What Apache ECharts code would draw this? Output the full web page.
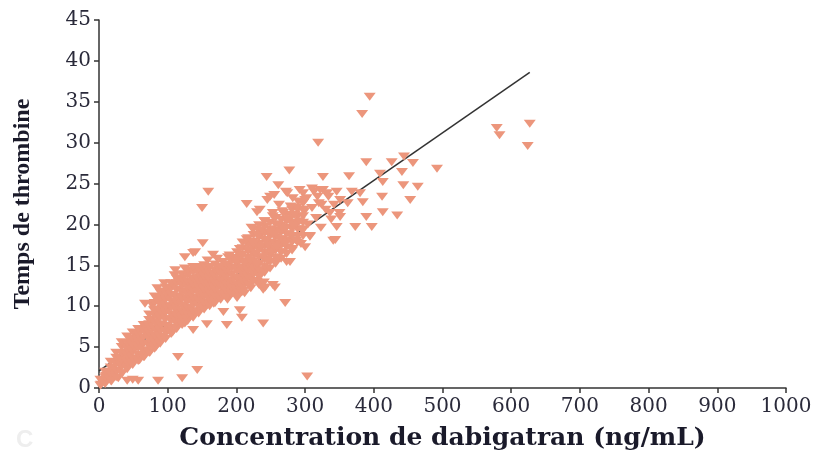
<!DOCTYPE html>
<html>
<head>
<meta charset="utf-8">
<title>Temps de thrombine vs dabigatran</title>
<script src="https://cdn.jsdelivr.net/npm/echarts@6/dist/echarts.min.js"></script>
<style>
  html, body { margin: 0; padding: 0; background: #fff; }
  #chart { width: 814px; height: 453px; }
</style>
</head>
<body>
<div id="chart"></div>
<script>
// axis ticks
const xTicks = [0, 100, 200, 300, 400, 500, 600, 700, 800, 900, 1000]
const yTicks = [0, 5, 10, 15, 20, 25, 30, 35, 40, 45]

// dense band of measurements, low concentrations  [ng/mL, s]
const bandeBasse = [
  [3,0.4],[6,1.0],[8,0.6],[10,1.5],[12,0.9],[14,2.0],[16,1.3],[18,0.8],[20,2.4],[22,1.6],
  [24,3.0],[26,2.1],[28,1.2],[30,3.5],[32,2.6],[34,1.8],[35,3.0],[36,4.2],[38,3.2],[40,2.4],
  [41,4.3],[42,5.0],[44,3.9],[46,2.9],[47,3.6],[48,5.8],[50,4.6],[52,3.4],[53,5.0],[54,6.4],
  [56,5.3],[57,6.7],[58,4.0],[59,3.4],[60,7.0],[62,6.0],[63,5.4],[64,4.6],[66,3.8],[67,6.9],
  [68,7.4],[69,4.4],[70,6.5],[72,5.3],[73,7.8],[74,4.3],[75,6.0],[76,8.3],[77,10.2],[78,7.2],
  [79,5.2],[80,9.5],[81,6.0],[82,8.0],[83,5.0],[84,9.2],[85,10.8],[86,8.6],[87,6.7],[88,7.4],
  [89,10.3],[90,11.6],[91,5.8],[92,9.7],[93,8.9],[94,6.3],[95,10.6],[96,8.4],[97,7.0],[98,11.0],
  [99,9.5],[100,12.1],[102,10.0],[103,11.3],[104,7.2],[105,8.4],[106,9.0],[107,6.8],[108,12.5],[109,10.5],
  [110,11.2],[111,9.6],[112,8.2],[113,12.0],[114,10.2],[115,7.6],[116,13.0],[117,11.0],[118,9.3],[119,8.9],
  [120,11.8],[121,12.6],[122,13.4],[123,10.1],[124,8.6],[125,7.9],[126,10.8],[127,9.5],[128,12.6],[129,11.8],
  [130,14.2],[131,13.0],[132,9.6],[133,8.7],[134,11.5],[135,10.9],[136,13.4],[137,12.0],[138,10.4],[139,9.2],
  [140,14.6],[141,13.3],[142,12.3],[143,11.0],[144,9.4],[145,14.2],[146,13.5],[147,10.0],[148,11.1],[149,12.4],
  [150,14.8],[151,13.5],[152,10.2],[153,11.7],[154,12.6],[156,13.8],[157,10.1],[158,11.4],[159,13.0],[160,14.6],
  [161,12.0],[162,10.6],[163,13.7],[164,12.9],[165,11.2],[166,14.0],[167,10.3],[168,11.8],[169,12.4],[170,13.2],
  [171,14.3],[172,10.9],[174,11.5],[175,14.5],[177,13.0],[178,12.4],[180,13.6],[181,12.1],[183,11.6],[184,14.1],
  [186,14.8],[187,10.8],[188,12.9],[190,11.2],[191,12.6],[193,13.9],[194,11.8],[196,12.2],[197,13.5],[199,14.6],
  [201,11.5],[202,13.2],[204,14.6],[205,12.0],[207,12.8],[208,14.1],[210,11.9],[212,13.0],[214,13.6],[215,14.4],
  [217,14.8],[218,12.6],[221,12.2],[222,13.6],[224,13.0],[226,14.2],[228,14.6],[230,13.0],[233,12.6],[235,13.8],
  [238,14.1],[240,12.9],[242,14.4],
  [85,12.2],[95,12.8],[110,13.8],[125,14.6],[158,15.6],[172,15.8],[180,15.4],[190,16.2],[198,15.8]
]

// more measurements filling the band, column by column  [ng/mL, s]
const remplissageBande = [
  [2,0.3],[2,1.0],
  [9,0.5],[9,1.3],[9,2.0],
  [17,0.9],[17,1.7],[17,2.5],[17,3.2],
  [25,1.3],[25,2.1],[25,2.9],[25,3.7],[25,4.3],
  [33,1.8],[33,2.6],[33,3.4],[33,4.2],[33,5.0],[33,5.6],
  [41,2.3],[41,3.1],[41,3.9],[41,4.7],[41,5.5],[41,6.3],
  [49,2.8],[49,3.6],[49,4.4],[49,5.2],[49,6.0],[49,6.8],
  [57,3.3],[57,4.1],[57,4.9],[57,5.7],[57,6.5],[57,7.2],
  [65,3.8],[65,4.6],[65,5.4],[65,6.2],[65,7.0],[65,7.7],
  [73,4.3],[73,5.1],[73,5.9],[73,6.7],[73,7.5],[73,8.3],[73,9.0],
  [81,4.8],[81,5.6],[81,6.4],[81,7.2],[81,8.0],[81,8.8],[81,9.6],[81,10.4],[81,11.2],
  [89,5.4],[89,6.2],[89,7.0],[89,7.8],[89,8.6],[89,9.4],[89,10.2],[89,11.0],[89,11.8],
  [97,6.0],[97,6.8],[97,7.6],[97,8.4],[97,9.2],[97,10.0],[97,10.8],[97,11.6],[97,12.3],
  [105,6.6],[105,7.4],[105,8.2],[105,9.0],[105,9.8],[105,10.6],[105,11.4],[105,12.2],[105,12.8],
  [113,7.2],[113,8.0],[113,8.8],[113,9.6],[113,10.4],[113,11.2],[113,12.0],[113,12.8],[113,13.4],
  [121,7.7],[121,8.5],[121,9.3],[121,10.1],[121,10.9],[121,11.7],[121,12.5],[121,13.3],[121,13.9],
  [129,8.2],[129,9.0],[129,9.8],[129,10.6],[129,11.4],[129,12.2],[129,13.0],[129,13.8],[129,14.4],
  [137,8.6],[137,9.4],[137,10.2],[137,11.0],[137,11.8],[137,12.6],[137,13.4],[137,14.2],[137,14.8],
  [145,9.1],[145,9.9],[145,10.7],[145,11.5],[145,12.3],[145,13.1],[145,13.9],[145,14.6],
  [153,9.6],[153,10.4],[153,11.2],[153,12.0],[153,12.8],[153,13.6],[153,14.4],[153,15.0],
  [161,10.0],[161,10.8],[161,11.6],[161,12.4],[161,13.2],[161,14.0],[161,14.8],
  [169,10.4],[169,11.2],[169,12.0],[169,12.8],[169,13.6],[169,14.4],[169,15.1],
  [177,10.8],[177,11.6],[177,12.4],[177,13.2],[177,14.0],[177,14.8],
  [185,11.1],[185,11.9],[185,12.7],[185,13.5],[185,14.3],[185,15.1],
  [193,11.5],[193,12.3],[193,13.1],[193,13.9],[193,14.7],[193,15.5],
  [201,11.9],[201,12.7],[201,13.5],[201,14.3],[201,15.1],[201,15.9],[201,16.6],
  [209,12.3],[209,13.1],[209,13.9],[209,14.7],[209,15.5],[209,16.3],[209,17.1],[209,17.8],
  [217,12.7],[217,13.5],[217,14.3],[217,15.1],[217,15.9],[217,16.7],[217,17.5],[217,18.3],
  [225,13.1],[225,13.9],[225,14.7],[225,15.5],[225,16.3],[225,17.1],[225,17.9],[225,18.7],[225,19.4],
  [233,13.6],[233,14.4],[233,15.2],[233,16.0],[233,16.8],[233,17.6],[233,18.4],[233,19.2],[233,19.9],
  [241,14.1],[241,14.9],[241,15.7],[241,16.5],[241,17.3],[241,18.1],[241,18.9],[241,19.7],[241,20.4],
  [249,14.6],[249,15.4],[249,16.2],[249,17.0],[249,17.8],[249,18.6],[249,19.4],[249,20.2],
  [257,15.2],[257,16.0],[257,16.8],[257,17.6],[257,18.4],[257,19.2],[257,20.0],[257,20.8],
  [265,15.8],[265,16.6],[265,17.4],[265,18.2],[265,19.0],[265,19.8],[265,20.6],
  [273,16.4],[273,17.2],[273,18.0],[273,18.8],[273,19.6],[273,20.4],[273,21.2],
  [281,17.0],[281,17.8],[281,18.6],[281,19.4],[281,20.2],[281,21.0],[281,21.8],
  [289,17.8],[289,18.6],[289,19.4],[289,20.2],[289,21.0],[289,21.8],
  [297,18.6],[297,19.4],[297,20.2],[297,21.0],[297,21.8],[297,22.6]
]

// middle cloud  [ng/mL, s]
const nuageMilieu = [
  [200,15.5],[205,17.0],[208,16.2],[212,15.3],[215,18.2],[218,16.8],[220,15.6],[222,19.6],[225,17.6],[228,16.4],
  [230,15.2],[232,18.6],[235,17.2],[237,19.3],[239,16.0],[241,20.4],[243,18.0],[245,15.6],[247,17.4],[249,19.0],
  [251,16.6],[253,21.0],[255,18.6],[257,17.0],[259,15.8],[261,20.0],[263,18.2],[265,16.6],[267,21.6],[269,19.4],
  [271,17.6],[273,15.4],[275,20.6],[277,18.8],[279,22.2],[281,16.8],[283,19.8],[285,21.2],[287,18.0],[290,22.8],
  [292,20.4],[294,17.6],[296,19.2],[299,21.6],[302,23.2],[304,20.0],[307,18.6],[310,22.0],[313,24.0],[316,20.8],
  [320,22.6],[323,19.6],[326,24.2],[330,21.8],[334,23.4],[338,20.6],[342,22.4],[346,24.0],[350,21.4],
  [245,23.0],[255,23.6],[262,22.4],[272,24.0],[282,23.2],[292,24.2],[300,23.0],[310,24.4],[318,23.4],[324,22.4]
]

// scattered measurements  [ng/mL, s]
const pointsEpars = [
  [394,35.6],[383,33.5],[319,30.0],[579,31.8],[583,30.9],[627,32.3],[624,29.6],[303,1.4],[277,26.6],[159,24.0],
  [150,22.0],[215,22.5],[230,21.5],[249,23.4],[244,25.8],[326,25.8],[364,25.9],[389,27.6],[409,26.2],[426,27.6],
  [444,28.3],[457,27.5],[492,26.8],[441,26.4],[413,25.2],[464,24.6],[443,24.8],[453,23.0],[434,21.1],[413,21.5],
  [412,23.4],[389,20.9],[373,19.7],[397,19.7],[341,18.0],[346,19.7],[380,23.8],[368,24.0],[384,22.7],[351,23.0],
  [362,22.6],[351,20.9],[336,21.4],[344,18.1],[307,18.5],[297,21.8],[288,22.1],[268,21.4],[253,21.4],[234,21.8],
  [261,24.8],[274,23.8],[297,23.8],[322,24.2],[332,23.8],[278,15.4],[300,17.2],[259,17.2],[151,17.7],[140,16.6],
  [125,16.0],[166,16.3],[188,16.0],[111,14.4],[137,16.5],[67,10.3],[137,7.1],[157,7.8],[186,7.7],[208,8.6],
  [239,7.9],[271,10.4],[205,9.5],[181,9.3],[201,11.0],[208,11.7],[239,12.0],[253,12.6],[242,12.3],[256,12.3],
  [212,11.6],[115,3.8],[143,2.2],[121,1.2],[86,0.9],[57,0.9],[41,0.9],[49,1.0]
]

// regression line end points
const droiteRegression = [[0, 2.1], [627, 38.6]]

const mesures = bandeBasse.concat(remplissageBande, nuageMilieu, pointsEpars)

const chart = echarts.init(document.getElementById('chart'))

const axisFont = { fontFamily: 'DejaVu Serif', fontSize: 20, color: '#2a2a3a' }
const titleFont = { fontWeight: 'bold', color: '#1a1a2a' }

chart.setOption({
  animation: false,
  backgroundColor: '#fff',
  grid: { left: 99, right: 28, top: 20, bottom: 65, containLabel: false, outerBoundsMode: 'none' },
  xAxis: {
    type: 'value',
    min: xTicks[0],
    max: xTicks[xTicks.length - 1],
    interval: 100,
    name: 'Concentration de dabigatran (ng/mL)',
    nameLocation: 'middle',
    nameGap: 38,
    nameTextStyle: Object.assign({ fontSize: 25, fontFamily: 'DejaVu Serif' }, titleFont),
    axisLine: { show: true, lineStyle: { color: '#333', width: 1.5 } },
    axisTick: { show: true, length: 5, lineStyle: { color: '#333', width: 1.5 } },
    splitLine: { show: false },
    axisLabel: Object.assign({ margin: 9, formatter: v => String(v) }, axisFont)
  },
  yAxis: {
    type: 'value',
    min: yTicks[0],
    max: yTicks[yTicks.length - 1],
    interval: 5,
    name: 'Temps de thrombine',
    nameLocation: 'middle',
    nameGap: 64,
    nameTextStyle: Object.assign({ fontSize: 24, fontFamily: 'Liberation Serif' }, titleFont),
    axisLine: { show: true, lineStyle: { color: '#333', width: 1.5 } },
    axisTick: { show: true, length: 5, lineStyle: { color: '#333', width: 1.5 } },
    splitLine: { show: false },
    axisLabel: Object.assign({ margin: 8 }, axisFont)
  },
  graphic: [{
    type: 'text', left: 16, top: 428,
    style: { text: 'C', fontSize: 24, fontWeight: 'bold', fontFamily: 'Liberation Sans', fill: '#eeeeee' }
  }],
  series: [
    {
      type: 'line',
      data: droiteRegression,
      showSymbol: false,
      lineStyle: { color: '#333', width: 1.5 },
      z: 1
    },
    {
      type: 'scatter',
      data: mesures,
      symbol: 'triangle',
      symbolSize: [12, 8],
      symbolRotate: 180,
      itemStyle: { color: '#ec967c', opacity: 1 },
      z: 2
    }
  ]
})
</script>
</body>
</html>
